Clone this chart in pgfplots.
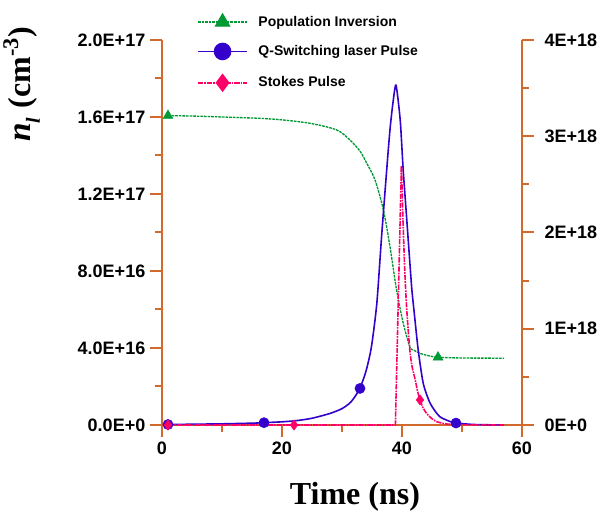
\documentclass[border=0pt]{standalone}
\usepackage{pgfplots}
\pgfplotsset{compat=1.18}
\usepackage{fontspec}
\setmainfont{Liberation Serif}
\setsansfont{Liberation Sans}
\definecolor{axc}{RGB}{210,105,45}
\definecolor{gc}{RGB}{0,153,51}
\definecolor{bc}{RGB}{51,0,204}
\definecolor{pc}{RGB}{255,0,102}
\pgfplotsset{
  common/.style={
    scale only axis, width=270pt, height=288.75pt,
    xmin=0, xmax=60, ymin=0, clip=false,
    axis line style={axc, line width=1.5pt},
    tick style={axc, line width=1.5pt},
    major tick length=9pt, minor tick length=5pt, tick align=outside,
    ticklabel style={font=\sffamily\bfseries\fontsize{13.5}{15}\selectfont, text=black},
    scaled y ticks=false,
  },
  greenline/.style={gc, line width=1pt, dash pattern=on 2pt off 0.7pt},
  blueline/.style={bc, line width=1.2pt},
  pinkline/.style={pc, line width=1.2pt, dash pattern=on 4pt off 0.8pt on 1.2pt off 0.8pt},
}
\begin{document}
\begin{tikzpicture}
\begin{axis}[common, name=ax,
  ymax=2e17,
  axis x line*=bottom, axis y line*=left,
  xtick={0,20,40,60}, xticklabels={0,20,40,60}, minor xtick={10,30,50},
  ytick={0,4e16,8e16,1.2e17,1.6e17,2e17},
  yticklabels={0.0E+0,4.0E+16,8.0E+16,1.2E+17,1.6E+17,2.0E+17},
  minor ytick={2e16,6e16,1e17,1.4e17,1.8e17},
  xlabel={Time (ns)},
  xlabel style={font=\bfseries\fontsize{24}{28}\selectfont, at={(axis description cs:0.536,-0.187)}, anchor=center},
  ylabel={{\fontsize{25}{25}\selectfont\bfseries\itshape n}\raisebox{-0.3em}{\fontsize{15}{15}\selectfont\bfseries\itshape l}\hspace{0.3em}(cm\textsuperscript{-3})},
  ylabel style={font=\bfseries\fontsize{24}{28}\selectfont, at={(axis description cs:-0.39,0.885)}, anchor=center},
]
\draw[axc, line width=1.5pt] ([xshift=-9pt]axis cs:0,0) -- ([xshift=9pt]axis cs:60,0);
\draw[axc, line width=1.5pt] ([yshift=-9pt]axis cs:0,0) -- (axis cs:0,0);
\addplot[greenline, smooth, tension=0.5] coordinates {
(1,1.607e17) (5,1.605e17) (10,1.600e17) (16.3,1.593e17) (20,1.585e17) (24.7,1.567e17)
(29.1,1.533e17) (31.3,1.481e17) (33,1.423e17) (34.1,1.361e17) (35.5,1.273e17)
(36.9,1.117e17) (38,0.926e17) (39.1,0.701e17) (40.2,0.530e17) (41.3,0.407e17)
(41.9,0.390e17) (43,0.372e17) (44.7,0.358e17) (46,0.352e17) (50,0.348e17) (57,0.347e17)
};
\addplot[gc, only marks, mark=triangle*, mark size=4.2pt] coordinates {(1,1.607e17) (46,0.352e17)};
\end{axis}
\begin{axis}[common,
  ymax=4e18,
  axis x line=none, axis y line*=right,
  xtick=\empty,
  ytick={0,1e18,2e18,3e18,4e18},
  yticklabels={0E+0,1E+18,2E+18,3E+18,4E+18},
  minor ytick={5e17,1.5e18,2.5e18,3.5e18},
  yticklabel style={xshift=4.5pt},
  legend style={at={(axis description cs:0.086,1.075)}, anchor=north west, draw=none, fill=none,
    font=\sffamily\bfseries\fontsize{10.5}{12}\selectfont, row sep=11.5pt,
    nodes={inner sep=0pt},
    /tikz/every odd column/.append style={column sep=8pt}},
  legend cell align=left,
  legend image code/.code={\draw[mark repeat=2, mark phase=2, #1] plot coordinates {(0pt,0pt) (18.4pt,0pt) (36.75pt,0pt)};},
]
\draw[axc, line width=1.5pt] ([yshift=-9pt]axis cs:60,0) -- (axis cs:60,0);
\addlegendimage{greenline, mark=triangle*, mark size=6pt, mark options={solid}}
\addlegendentry{Population Inversion}
\addlegendimage{blueline, mark=*, mark size=6pt, mark options={solid}}
\addlegendentry{Q-Switching laser Pulse}
\addlegendimage{pinkline, mark=diamond*, mark size=6pt, mark options={solid}}
\addlegendentry{Stokes Pulse}
\addplot[blueline, smooth, tension=0.4, forget plot] coordinates {
(1,0.005e18) (5,0.008e18) (10,0.012e18) (15,0.019e18) (17,0.024e18) (20,0.033e18)
(22.4,0.045e18) (25,0.07e18) (28,0.12e18) (30,0.17e18) (31.5,0.24e18) (32.9,0.37e18)
(34,0.56e18) (34.9,0.81e18) (35.8,1.26e18) (36.6,1.96e18) (37.45,2.65e18)
(38,3.07e18) (38.5,3.35e18) (39,3.53e18) (39.7,3.17e18) (40.2,2.65e18) (40.8,2.13e18) (41.6,1.44e18)
(42,1.19e18) (42.7,0.78e18) (43.55,0.43e18) (44.7,0.225e18) (46.3,0.086e18)
(48.55,0.024e18) (49,0.02e18) (52,0.005e18) (57,0)
};
\addplot[pinkline, forget plot] coordinates {(1,0) (38.9,0) (39.9,2.69e18)};
\addplot[pinkline, smooth, tension=0.4, forget plot] coordinates {
(39.9,2.69e18) (40.2,2.06e18) (40.5,1.55e18) (40.8,1.19e18) (41.3,0.78e18) (41.7,0.60e18)
(42.2,0.47e18) (42.6,0.35e18) (43,0.26e18) (43.5,0.18e18) (44.1,0.12e18) (45,0.065e18)
(45.8,0.034e18) (47,0.015e18) (48,0.007e18) (50,0.002e18) (57,0)
};
\addplot[bc, only marks, mark=*, mark size=3.8pt, forget plot] coordinates {(1,0.005e18) (17,0.024e18) (33,0.38e18) (49,0.02e18)};
\addplot[pc, only marks, mark=diamond*, mark size=3.8pt, forget plot] coordinates {(1,0) (22,0) (43,0.26e18)};
\end{axis}
\pgfresetboundingbox
\path (ax.south west) ++(-121.5pt,-71.25pt) rectangle ++(450.75pt,390pt);
\end{tikzpicture}
\end{document}
